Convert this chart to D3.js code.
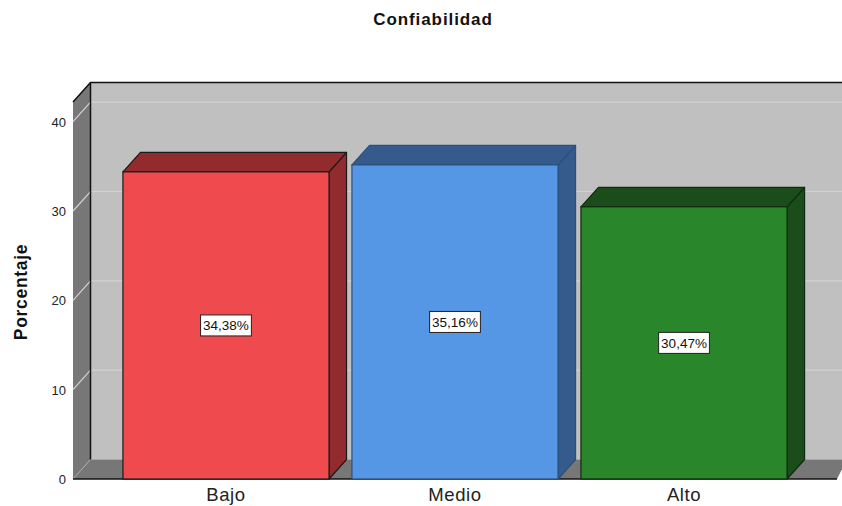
<!DOCTYPE html>
<html><head><meta charset="utf-8">
<script src="https://cdn.jsdelivr.net/npm/d3@7"></script>
<style>
html,body{margin:0;padding:0;background:#fff;}
svg{display:block;font-family:"Liberation Sans",Arial,sans-serif;}
</style></head>
<body>
<svg id="chart" width="842" height="506"></svg>
<script>
const categories = ["Bajo", "Medio", "Alto"];
const values = [34.38, 35.16, 30.47];
const valueLabels = ["34,38%", "35,16%", "30,47%"];
const yTicks = [0, 10, 20, 30, 40];
const frontColors = ["#ef4b4f", "#5596e5", "#29862a"];
const darkColors = ["#922b2e", "#345b8b", "#1b4d1b"];
const strokeColors = ["#1a1a1a", "#2d4f7a", "#102a10"];

(function () {
const W = 842, H = 506;
const svg = d3.select("#chart");
const pL = 73, pR = 837, pB = 479, pT = 102;
const dx = 17.5, dy = -19.5;

const y = d3.scaleLinear().domain([0, 42.2]).range([pB, pT]);
const x = d3.scaleBand().domain(categories).range([pL, pR]).paddingInner(0.1).paddingOuter(0.218);

// back wall
svg.append("rect").attr("x", pL + dx).attr("y", pT + dy).attr("width", W - pL - dx + 5).attr("height", pB - pT)
  .attr("fill", "#c0c0c0");
// left wall
svg.append("path").attr("d", `M${pL},${pT}L${pL+dx},${pT+dy}L${pL+dx},${pB+dy}L${pL},${pB}Z`).attr("fill", "#777777");
// floor
svg.append("path").attr("d", `M${pL},${pB}L${pL+dx},${pB+dy}L${W+5},${pB+dy}L${pR},${pB}Z`).attr("fill", "#777777");
// gridlines
yTicks.forEach(t => {
  if (t === 0) return;
  const yy = y(t);
  svg.append("path").attr("d", `M${pL},${yy}L${pL+dx},${yy+dy}L${W+5},${yy+dy}`)
    .attr("fill", "none").attr("stroke", "#d2d2d2").attr("stroke-width", 1.2);
});
// floor back edge & diagonal
svg.append("path").attr("d", `M${pL},${pB}L${pL+dx},${pB+dy}L${W+5},${pB+dy}`)
  .attr("fill", "none").attr("stroke", "#a8a8a8").attr("stroke-width", 1);
// wall edges
svg.append("path").attr("d", `M${pL},${pT}L${pL+dx},${pT+dy}L${W+5},${pT+dy}`)
  .attr("fill", "none").attr("stroke", "#111").attr("stroke-width", 1.5);
svg.append("line").attr("x1", pL+dx).attr("x2", pL+dx).attr("y1", pT+dy).attr("y2", pB+dy)
  .attr("stroke", "#111").attr("stroke-width", 1.5);
svg.append("line").attr("x1", pL).attr("x2", pR).attr("y1", pB).attr("y2", pB)
  .attr("stroke", "#111").attr("stroke-width", 1.5);

// bars
const g = svg.append("g");
categories.forEach((c, i) => {
  const x0 = x(c), x1 = x(c) + x.bandwidth(), yt = y(values[i]), yb = y(0);
  const bg = g.append("g");
  bg.append("path").attr("d", `M${x1},${yt}L${x1+dx},${yt+dy}L${x1+dx},${yb+dy}L${x1},${yb}Z`)
    .attr("fill", darkColors[i]).attr("stroke", strokeColors[i]).attr("stroke-width", 1.2).attr("stroke-linejoin", "round");
  bg.append("path").attr("d", `M${x0},${yt}L${x0+dx},${yt+dy}L${x1+dx},${yt+dy}L${x1},${yt}Z`)
    .attr("fill", darkColors[i]).attr("stroke", strokeColors[i]).attr("stroke-width", 1.2).attr("stroke-linejoin", "round");
  bg.append("rect").attr("x", x0).attr("y", yt).attr("width", x1 - x0).attr("height", yb - yt)
    .attr("fill", frontColors[i]).attr("stroke", strokeColors[i]).attr("stroke-width", 1.2);
  const cx = (x0 + x1) / 2, cy = (yt + yb) / 2;
  const lbl = bg.append("g");
  const txt = lbl.append("text").attr("x", cx).attr("y", cy + 5).attr("text-anchor", "middle")
    .attr("font-size", 13.5).attr("fill", "#111").text(valueLabels[i]);
  const bb = txt.node().getBBox();
  lbl.insert("rect", "text").attr("x", bb.x - 2.5).attr("y", cy - 10.5).attr("width", bb.width + 5).attr("height", 21)
    .attr("fill", "#fff").attr("stroke", "#222").attr("stroke-width", 1);
});

// y tick labels
svg.append("g").selectAll("text").data(yTicks).join("text")
  .attr("x", 66).attr("y", d => y(d) + 5).attr("text-anchor", "end")
  .attr("font-size", 13).attr("fill", "#222").text(d => d);

// category labels
svg.append("g").selectAll("text").data(categories).join("text")
  .attr("x", d => x(d) + x.bandwidth() / 2).attr("y", 501).attr("text-anchor", "middle")
  .attr("font-size", 18.5).attr("letter-spacing", "0.6px").attr("fill", "#222").text(d => d);

// title
svg.append("text").attr("x", 433).attr("y", 25).attr("text-anchor", "middle")
  .attr("font-size", 17).attr("font-weight", "bold").attr("letter-spacing", "0.9px").attr("fill", "#111").text("Confiabilidad");

// y axis title
svg.append("text").attr("transform", "translate(27,292) rotate(-90)").attr("text-anchor", "middle")
  .attr("font-size", 17.5).attr("font-weight", "bold").attr("letter-spacing", "0.7px").attr("fill", "#111").text("Porcentaje");
})();
</script>
</body></html>
